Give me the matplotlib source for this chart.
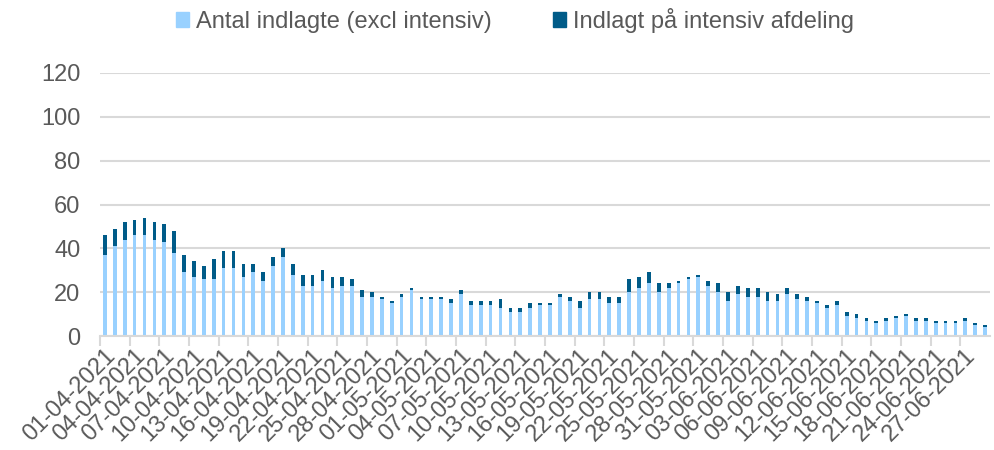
import datetime as dt

import matplotlib
matplotlib.use("Agg")
import matplotlib.pyplot as plt
import matplotlib.transforms as mtransforms
from matplotlib.patches import Patch

# Daily values, 01-04-2021 .. 29-06-2021
totals = [46, 49, 52, 53, 54, 52, 51, 48, 37, 34, 32, 35, 39, 39, 33,
          33, 29, 36, 40, 33, 28, 28, 30, 27, 27, 26, 21, 20, 18, 16,
          19, 22, 18, 18, 18, 17, 21, 16, 16, 16, 17, 13, 13, 15, 15,
          15, 19, 18, 16, 20, 20, 18, 18, 26, 27, 29, 24, 24, 25, 27,
          28, 25, 24, 20, 23, 22, 22, 20, 19, 22, 19, 18, 16, 14, 16,
          11, 10, 8, 7, 8, 9, 10, 8, 8, 7, 7, 7, 8, 6, 5]
ward = [37, 41, 44, 46, 46, 44, 43, 38, 29, 27, 26, 26, 31, 31, 27,
        29, 25, 32, 36, 28, 23, 23, 25, 22, 23, 23, 18, 18, 17, 15,
        18, 21, 17, 17, 17, 15, 19, 14, 14, 14, 13, 11, 11, 13, 14,
        14, 18, 16, 13, 17, 17, 15, 15, 20, 22, 24, 20, 22, 24, 26,
        27, 23, 20, 16, 19, 18, 18, 16, 16, 19, 17, 16, 15, 13, 14,
        9, 8, 7, 6, 7, 8, 9, 7, 7, 6, 6, 6, 7, 5, 4]
icu = [t - w for t, w in zip(totals, ward)]

start = dt.date(2021, 4, 1)
dates = [(start + dt.timedelta(days=i)).strftime("%d-%m-%Y") for i in range(len(totals))]

series_names = ["Antal indlagte (excl intensiv)", "Indlagt på intensiv afdeling"]
colors = ["#99d1ff", "#005b88"]
text_color = "#595959"
fs = 17

plt.rcParams["font.family"] = ["Liberation Sans", "DejaVu Sans"]

fig = plt.figure(figsize=(9.94, 4.5), dpi=100)
ax = fig.add_axes([0.1006, 0.2533, 0.8954, 0.5845])

x = list(range(len(dates)))
ax.bar(x, ward, width=0.38, color=colors[0], zorder=3)
ax.bar(x, icu, width=0.38, bottom=ward, color=colors[1], zorder=3)

ax.set_xlim(-0.5, len(dates) - 0.5)
ax.set_ylim(0, 120)
ax.set_yticks(range(0, 121, 20))
ax.grid(axis="y", color="#d9d9d9", linewidth=1.5, zorder=0)

for side in ["left", "right", "top"]:
    ax.spines[side].set_visible(False)
ax.spines["bottom"].set_color("#d9d9d9")
ax.spines["bottom"].set_linewidth(1.5)
ax.spines["bottom"].set_zorder(4)

ax.tick_params(axis="y", length=0, pad=14, labelsize=fs, labelcolor=text_color)

# labels every third day, tick marks on category boundaries
ax.set_xticks(x[::3])
ax.set_xticklabels(dates[::3])
ax.set_xticks([i - 0.5 for i in x[::3]], minor=True)
ax.tick_params(axis="x", which="major", length=0, pad=2, labelsize=fs, labelcolor=text_color)
ax.tick_params(axis="x", which="minor", length=7, width=1.5, color="#d9d9d9")
offset = mtransforms.ScaledTranslation(7 / 100, -14 / 100, fig.dpi_scale_trans)
for lbl in ax.get_xticklabels():
    lbl.set_rotation(45)
    lbl.set_ha("right")
    lbl.set_va("center")
    lbl.set_rotation_mode("anchor")
    lbl.set_transform(lbl.get_transform() + offset)

handles = [Patch(color=c) for c in colors]
fig.legend(handles, series_names, loc="upper center", bbox_to_anchor=(0.518, 1.03),
           ncol=2, frameon=False, fontsize=fs, labelcolor=text_color,
           handlelength=0.55, handleheight=0.55, handletextpad=0.3, columnspacing=2.6)

fig.savefig("out.png", dpi=100)
